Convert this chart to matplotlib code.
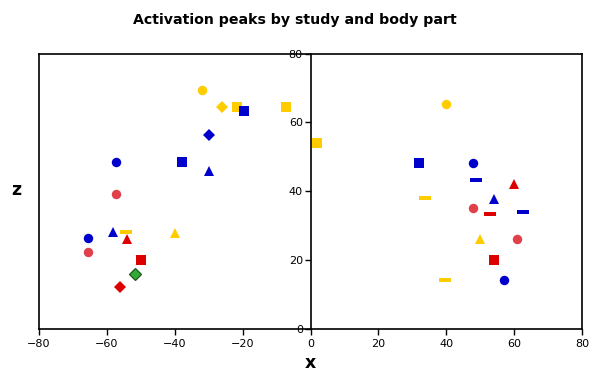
import matplotlib
matplotlib.use("Agg")
import matplotlib.pyplot as plt

# ---- data (x, z) per study colour / body-part marker ----
yellow_circle_x = [-32, 40];           yellow_circle_z = [69.5, 65.4]
yellow_diamond_x = [-26];              yellow_diamond_z = [64.4]
yellow_square_x = [-21.6, -7.2, 2];    yellow_square_z = [64.4, 64.4, 54]
yellow_triangle_x = [-40, 50];         yellow_triangle_z = [28, 26]
yellow_dash_x = [-54.3, 33.7, 39.7];   yellow_dash_z = [28.2, 38, 14.2]

blue_circle_x = [-57.4, -65.5, 47.8, 57];   blue_circle_z = [48.6, 26.3, 48.3, 14.2]
blue_square_x = [-19.7, -38, 32];           blue_square_z = [63.4, 48.4, 48.2]
blue_diamond_x = [-29.8];                   blue_diamond_z = [56.3]
blue_triangle_x = [-29.8, -58.2, 54];       blue_triangle_z = [46, 28.1, 37.7]
blue_dash_x = [48.8, 62.6];                 blue_dash_z = [43.2, 34.1]

red_circle_x = [-57.4, -65.5, 47.8, 60.7];  red_circle_z = [39.2, 22.3, 35.2, 26.2]
red_square_x = [-50, 54.2];                 red_square_z = [20, 20]
red_triangle_x = [-54.1, 60];               red_triangle_z = [26, 42.1]
red_diamond_x = [-56];                      red_diamond_z = [12.2]
red_dash_x = [52.8];                        red_dash_z = [33.3]

green_diamond_x = [-51.7];                  green_diamond_z = [16]

x_ticks = [-80, -60, -40, -20, 0, 20, 40, 60, 80]
z_ticks = [0, 20, 40, 60, 80]

YEL = "#FFCC00"
BLU = "#0000CC"
RED = "#DD0000"
RED_C = "#E0404A"
GRN = "#33AA33"

dash = [(-1.6, -0.5), (1.6, -0.5), (1.6, 0.5), (-1.6, 0.5), (-1.6, -0.5)]

series = [
    (yellow_circle_x, yellow_circle_z, YEL, "o", 6.8),
    (yellow_diamond_x, yellow_diamond_z, YEL, "D", 6.3),
    (yellow_square_x, yellow_square_z, YEL, "s", 6.6),
    (yellow_triangle_x, yellow_triangle_z, YEL, "^", 6.8),
    (yellow_dash_x, yellow_dash_z, YEL, dash, 9),
    (blue_circle_x, blue_circle_z, BLU, "o", 6.8),
    (blue_square_x, blue_square_z, BLU, "s", 6.6),
    (blue_diamond_x, blue_diamond_z, BLU, "D", 6.3),
    (blue_triangle_x, blue_triangle_z, BLU, "^", 6.8),
    (blue_dash_x, blue_dash_z, BLU, dash, 9),
    (red_circle_x, red_circle_z, RED_C, "o", 6.8),
    (red_square_x, red_square_z, RED, "s", 6.6),
    (red_triangle_x, red_triangle_z, RED, "^", 6.8),
    (red_diamond_x, red_diamond_z, RED, "D", 6.3),
    (red_dash_x, red_dash_z, RED, dash, 9),
]

fig = plt.figure(figsize=(5.9, 3.73), dpi=100)
ax = fig.add_axes([39/590, 1 - 329/373, (582 - 39)/590, (329 - 53.5)/373])

for xs, zs, c, m, ms in series:
    ax.plot(xs, zs, linestyle="none", marker=m, color=c, markersize=ms,
            markeredgewidth=0, zorder=3)
ax.plot(green_diamond_x, green_diamond_z, linestyle="none", marker="D",
        color=GRN, markersize=6.3, markeredgecolor="#1A5A1A",
        markeredgewidth=0.9, zorder=3)

ax.set_xlim(-80, 80)
ax.set_ylim(0, 80)
ax.set_xticks(x_ticks)
ax.set_yticks(z_ticks)

lw = 1.2
for s in ax.spines.values():
    s.set_linewidth(lw)
ax.spines["left"].set_position(("data", 0))
ax.axvline(-80, color="black", lw=lw, clip_on=False, zorder=5)

ax.tick_params(axis="both", direction="out", length=4, width=1,
               labelsize=8, colors="black")
ax.tick_params(axis="y", pad=1.5)

fig.text(0.5, 1 - 20/373, "Activation peaks by study and body part",
         ha="center", va="center", fontsize=10.2, fontweight="bold")
fig.text(310/590, 1 - 363/373, "x", ha="center", va="center",
         fontsize=12.5, fontweight="bold")
fig.text(16/590, 1 - 190/373, "z", ha="center", va="center",
         fontsize=12.5, fontweight="bold")

fig.savefig("out.png", dpi=100)
